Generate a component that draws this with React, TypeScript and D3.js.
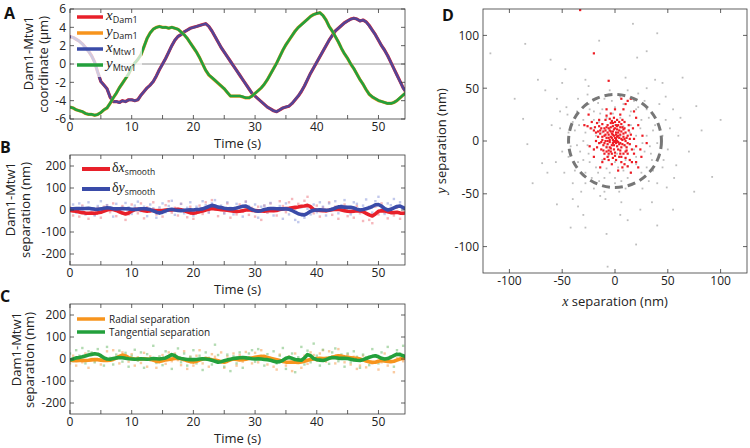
import React from 'react';
import * as d3 from 'd3';

// ---------- DATA ----------
// sample times (s) shared by the time series in panels A-C
const sampleTimes = d3.range(0, 55, 0.5);

// Panel A: Dam1 coordinates (µm)
const xDam1 = [3.0, 2.9, 2.7, 2.5, 2.2, 1.8, 1.4, 0.9, 0.2, -0.9, -1.9, -2.3, -2.7, -3.6, -4.1, -4.1, -4.2, -4.0, -4.1, -3.9,
  -3.9, -4.0, -3.9, -3.4, -3.0, -2.6, -2.3, -1.9, -1.3, -0.6, 0.0, 0.6, 1.3, 2.0, 2.6, 3.0, 3.2, 3.5, 3.7, 3.9,
  4.0, 4.1, 4.2, 4.3, 4.4, 4.1, 3.6, 3.0, 2.4, 1.8, 1.3, 0.8, 0.3, -0.2, -0.7, -1.2, -1.7, -2.2, -2.7, -3.2,
  -3.5, -3.8, -4.1, -4.4, -4.7, -4.9, -5.1, -5.2, -5.0, -4.8, -4.7, -4.6, -4.3, -3.9, -3.5, -3.0, -2.4, -1.7, -1.0, -0.4,
  0.2, 0.8, 1.4, 2.0, 2.6, 3.1, 3.6, 3.9, 4.2, 4.5, 4.7, 4.9, 5.0, 4.9, 4.7, 4.8, 4.6, 4.2, 3.7, 3.2,
  2.6, 2.0, 1.5, 0.9, 0.2, -0.5, -1.2, -1.9, -2.6, -3.1];
const yDam1 = [-4.7, -4.8, -5.0, -5.1, -5.2, -5.4, -5.5, -5.5, -5.6, -5.5, -5.3, -5.0, -4.8, -4.3, -3.7, -3.2, -2.6, -2.1, -1.6, -1.1,
  -0.4, 0.1, 0.5, 1.0, 1.9, 2.8, 3.4, 3.8, 4.0, 4.1, 4.0, 4.0, 3.9, 4.0, 3.9, 3.8, 3.5, 3.2, 2.8, 2.3,
  1.8, 1.3, 0.7, 0.0, -0.7, -1.2, -1.5, -1.8, -2.1, -2.4, -2.7, -3.1, -3.5, -3.5, -3.5, -3.5, -3.6, -3.7, -3.7, -3.5,
  -3.2, -2.9, -2.6, -2.2, -1.7, -1.1, -0.5, 0.1, 0.8, 1.5, 2.1, 2.6, 3.1, 3.6, 4.0, 4.3, 4.6, 4.9, 5.2, 5.4,
  5.5, 5.6, 5.3, 4.8, 4.1, 3.6, 3.0, 2.4, 1.7, 1.1, 0.6, 0.0, -0.5, -1.1, -1.7, -2.2, -2.8, -3.3, -3.6, -3.8,
  -4.0, -4.1, -4.2, -4.3, -4.3, -4.2, -4.0, -3.7, -3.4, -3.1];

// Panel B: smoothed separations (nm)
const smoothDx = [-2, -4, -6, -9, -12, -14, -15, -14, -15, -13, -10, -5, 0, 3, 2, -2, -8, -14, -18, -14,
  -5, 2, 3, 0, -3, -5, -3, -1, -3, -4, -2, 0, 1, 0, 2, 3, 1, -3, -8, -13,
  -15, -12, -8, -5, 0, 4, 7, 5, 3, 1, 0, -1, -3, -5, -7, -6, -3, 0, 1, -1,
  -3, -4, -4, -5, -3, -2, -3, -2, 2, 5, 7, 8, 10, 12, 14, 17, 18, 21, 15, 2,
  -1, -2, -3, -3, -1, 1, 3, 3, 0, -3, -6, -7, -5, -3, -4, -8, -15, -22, -27, -18,
  -6, -3, -4, -8, -12, -12, -10, -14, -15, -13];
const smoothDy = [5, 6, 7, 7, 6, 7, 8, 6, 4, 3, 5, 8, 10, 9, 6, 5, 6, 7, 6, 5,
  3, 3, 4, 6, 6, 5, 2, -4, -10, -14, -10, -4, 1, 3, 0, -2, -3, -1, 0, 1,
  0, 2, 3, 5, 10, 16, 21, 18, 13, 11, 8, 6, 5, 6, 9, 13, 17, 18, 10, 2,
  -3, -6, -3, 2, 5, 7, 7, 6, 5, 6, 5, 3, -2, -10, -17, -21, -22, -15, -6, -1,
  0, 1, 0, -1, 0, 3, 9, 14, 14, 13, 12, 12, 9, 4, 0, 2, 6, 10, 16, 24,
  25, 18, 6, 0, 3, 10, 16, 18, 10, 5];
const rawDx = [12, -25, 8, -30, 20, -18, -40, 5, -22, 10,
  -35, 15, 22, -10, 30, -28, -5, 18, -45, -20,
  25, 8, -15, 30, -38, 12, -8, 35, -20, 5,
  -30, 22, 40, -12, 10, -25, 28, -5, -33, 15,
  -40, 5, 20, -18, 35, -10, 45, 12, -28, 8,
  -15, 30, -35, 2, -20, 25, -8, 38, -22, 10,
  -30, 15, -45, 20, -12, 30, -5, -25, 40, 18,
  -10, 35, 50, 5, 28, -18, 42, 60, 10, -15,
  20, -30, 12, -8, 35, -22, 15, -40, 5, 25,
  -28, 10, -35, 18, -15, -50, 8, -45, -60, 15,
  -20, 30, -12, -38, 5, -25, 10, -40, -18, 6];
const rawDy = [8, 25, -12, 30, 15, -20, 35, 2, -25, 18,
  40, -8, 22, 10, -30, 28, 5, -15, 32, 12,
  -18, 20, 38, -5, 15, -28, 25, 8, -35, 12,
  30, -10, 18, 42, -22, 5, 28, -15, 10, 35,
  -25, 15, -8, 40, 22, -12, 30, 45, 5, 20,
  -15, 35, 10, -20, 28, 12, -30, 38, 18, -5,
  25, -35, 15, 20, -10, 32, -25, 5, 18, -40,
  30, -20, 8, -45, -55, 12, -35, 5, -20, 25,
  -10, 35, 15, -25, 30, 8, 40, -15, 22, 45,
  10, -20, 35, 28, -8, 20, 48, 15, -12, 40,
  60, 5, -18, 30, 22, 50, -10, 35, 15, -5];

// Panel C: radial / tangential separations (nm)
const smoothRad = [-5, -7, -8, -7, -6, -7, -6, -4, -2, -3, -5, -7, -7, -6, -2, 4, 12, 18, 14, 6,
  2, 0, -1, 0, 1, 0, -2, -5, -10, -12, -8, -4, -2, 0, 2, 3, 1, -3, -8, -12,
  -14, -10, -5, 0, 2, 0, -3, -5, -8, -12, -15, -10, -4, 0, -2, -4, -3, -1, 2, 5,
  8, 10, 12, 11, 7, 3, 0, -3, -7, -11, -14, -15, -14, -15, -16, -14, -10, -6, -2, 0,
  2, 3, 2, 2, 4, 8, 12, 15, 13, 10, 8, 6, 4, 3, 0, -4, -9, -13, -15, -15,
  -10, -7, -9, -11, -12, -10, -5, 0, 3, 4];
const smoothTan = [-5, 0, 5, 7, 10, 14, 18, 21, 24, 22, 15, 5, 0, -1, 2, 5, 7, 6, 3, 1,
  0, -1, 0, 1, 0, -1, 0, 2, 1, 0, 2, 5, 12, 20, 15, 6, 2, 0, -2, -3,
  -3, -2, 0, 1, 0, -2, -6, -10, -15, -12, -8, -4, -1, 2, 4, 6, 7, 5, 3, 1,
  0, 1, 0, -2, -3, -6, -10, -14, -12, -6, 3, 7, 3, -2, -4, -6, 5, 20, 15, 2,
  -3, -5, -7, -3, 3, 7, 6, 4, 3, 3, 2, -1, -4, -6, -7, -3, 2, 8, 12, 15,
  10, 3, 0, 2, 8, 15, 22, 20, 15, 10];
const rawRad = [-20, 15, -30, 5, -15, 25, -40, 0, -10, 20,
  -25, 10, 35, -5, 40, 8, -20, 30, 15, -12,
  22, -30, 8, -18, 28, -35, 12, -8, -40, 5,
  18, -22, 30, -10, 25, -5, -28, 35, -45, 10,
  -30, 15, 40, -20, 5, -35, 22, 10, -15, 30,
  -40, 12, -5, 25, -30, 18, -12, 32, 8, -20,
  28, -15, 40, 15, -25, 5, -35, -48, 20, -10,
  -30, 12, -55, 25, 0, -40, 15, -22, 30, 18,
  -8, 25, 40, -12, 35, 10, -20, 45, 5, -15,
  20, -25, 10, -45, -30, 15, -38, 8, -20, 12,
  -48, -15, 25, -30, 10, -60, 5, 20, -10, 30];
const rawTan = [25, -10, 40, 15, 50, -20, 35, 30, -15, 45,
  10, -30, 55, 5, -25, 20, 38, -12, 28, -35,
  15, 42, -8, 30, -40, 22, 5, 60, -18, 12,
  -28, 35, 8, -45, 20, 48, -15, 25, -30, 10,
  40, -20, 15, -50, 30, 5, -25, 65, 18, -10,
  -35, 20, -55, 12, -20, 30, -40, 8, 25, 40,
  -12, 45, 10, -30, 22, -8, 35, -20, 15, 50,
  -45, 10, 25, -60, 8, 55, -25, 38, -15, 70,
  15, -30, 42, 5, -22, 30, 48, -10, 20, -35,
  25, -15, 35, 10, -40, 20, 8, -28, 45, 15,
  -20, 30, -10, 55, 12, -35, 40, 25, 60, 18];

// Panel D: all measured separations (grey) and high-confidence separations (red), nm
const dGrey: [number, number][] = [
  [-118, 83], [-85, 92], [-87, 21], [-83, -3], [-73, 58], [-61, 77], [-47, 68], [40, 102], [17, 111], [21, 79],
  [64, 60], [77, 33], [92, -34], [75, -48], [-42, -82], [-28, -82], [-7, -119], [20, -98], [24, -65], [-9, -55],
  [-40, -55], [49, -44], [58, -23], [-69, -21], [-64, -30], [-55, 40], [-60, 15], [60, 5], [55, 30], [-35, -62],
  [5, -70], [35, -58], [-20, -45], [30, 50], [-25, 52], [10, 60],
  [-30, 20], [-25, 35], [-38, 10], [-42, -5], [-35, -20], [-28, -30], [-15, -38], [0, -40], [12, -35], [25, -30],
  [35, -18], [40, -2], [38, 15], [30, 30], [18, 38], [5, 42], [-10, 40], [-20, 28], [-22, 12], [-30, 0],
  [-25, -12], [-18, -25], [-5, -30], [8, -28], [20, -22], [28, -10], [30, 5], [25, 20], [15, 28], [0, 32],
  [-12, 30], [-15, 18], [-18, 5], [-20, -8], [-12, -18], [0, -20], [10, -18], [18, -8], [20, 5], [15, 15],
  [5, 22], [-8, 22], [-45, 25], [-50, -10], [-48, -30], [45, -25], [48, 20], [42, 35], [-35, 40], [-5, 48],
  [22, 45], [-28, -40], [10, -45], [32, -38], [-40, -40], [45, 5], [-10, -48], [0, -35], [15, -30], [-22, -35],
  [-33, -10], [-36, 28], [36, -28], [28, 38], [-3, 38], [8, 35], [-16, 36], [-26, 44], [12, 48], [-44, 8],
  [-52, 12], [50, -8], [52, 12], [40, -40], [-2, 0], [5, 5], [-8, -5], [10, -5], [-5, 12], [2, -12],
  [-14, -2], [14, 8], [-6, -14], [8, 14], [-20, 20], [20, -15], [-24, -20], [24, 12], [-12, 8], [3, -25],
  [-30, -32], [33, -5], [0, 15], [-40, 18], [-32, -48], [18, -40], [26, -45], [-14, -52], [6, -58], [-52, 28],
  [48, 42], [-28, 58], [38, 58],
  [-34, 15], [-30, -18], [-24, 30], [-10, -35], [14, -42], [30, -25], [36, 10], [32, 22], [22, 32], [-6, 44],
  [-38, -28], [-44, -15], [42, -12], [28, -34], [-16, -30], [6, -38], [-26, -4], [26, -2], [-14, 26], [14, 24],
  [-2, 26], [-28, 8], [34, -12], [-36, -4], [-8, -26], [12, -24], [20, 30], [-18, 40], [4, -48], [46, -18],
  [-46, 32], [-56, -20], [56, -35], [62, 22], [-66, 48], [-50, 55], [45, 55], [-30, -70], [12, -75], [-78, -40],
  [82, 10], [70, -10], [-95, 40], [100, 20], [-15, 95], [30, 85], [-55, -60], [55, -65], [-8, -88], [40, -80]];
const dRed: [number, number][] = [
  [-3, 3], [-1, 5], [-5, 1], [0, 0], [2, 4], [-6, 6], [-2, -2], [1, 8], [-8, 3], [3, -1],
  [-4, 9], [0, 12], [5, 6], [-7, -3], [-10, 5], [4, 10], [-2, 14], [6, 2], [-9, 10], [2, -5],
  [-5, -6], [8, 7], [-12, 1], [7, -3], [-1, -8], [-6, 12], [3, 15], [-11, -4], [9, 12], [-14, 7],
  [10, 0], [-3, -12], [5, -9], [-8, -10], [12, 5], [-15, -2], [0, 18], [-4, 17], [6, 16], [11, -6],
  [-13, 12], [-16, 4], [13, 10], [-7, 15], [2, 20], [8, -12], [-2, -16], [4, -15], [14, -3], [-10, -12],
  [-18, 8], [15, 6], [-1, 22], [9, 18], [-12, 16], [10, -16], [6, -20], [-6, -18], [16, -8], [-17, -6],
  [12, -12], [18, -12], [9, -22], [12, -24], [7, -25], [14, -18], [-20, 10], [-23, 12], [-26, 14], [-19, 13],
  [-29, 15], [-22, 18], [-15, 20], [5, 25], [8, 30], [10, 35], [12, 38], [15, 40], [18, 28], [20, 22],
  [22, 15], [-4, 26], [0, 30], [-8, 30], [3, -28], [-12, -20], [16, -20], [20, -20], [22, -25], [15, -30],
  [-20, -15], [-18, 0], [18, 2], [20, -5], [-9, 20], [-3, 7], [1, 2], [-2, 9], [-5, -1], [3, 8],
  [-7, 0], [4, 3], [-1, -4], [-9, 6], [6, -6], [-4, 13], [2, 11], [-11, 9], [8, 4], [-6, -9],
  [0, -11], [10, 8], [-13, -8], [5, 13], [-15, 14], [1, -18], [7, 20], [-10, -17], [11, -9], [13, 15],
  [-17, 17], [-3, -22], [-20, -8], [24, -8], [26, 5], [-6, 57], [-20, 83], [-14, -25], [-24, -5], [17, 12],
  [-8, 24], [25, -15], [30, -2], [-25, 25], [6, 40], [-33, 124],
  [-4, 4], [-2, 1], [-6, 3], [1, 6], [-3, -4], [2, 0], [-7, 8], [0, 3], [4, -3], [-9, 0],
  [-1, 11], [3, 5], [-5, 10], [6, 9], [-10, -2], [-4, -7], [1, -2], [7, 1], [-8, 13], [-2, 17],
  [5, -12], [-12, 4], [9, -4], [-6, -12], [2, 14], [-14, 10], [11, 3], [-11, -9], [0, -14], [8, 11],
  [-3, 19], [12, -2], [-16, 9], [4, 18], [-7, -15], [10, -10], [14, 2], [-13, -1], [6, -15], [-5, 21],
  [3, -8], [-8, -6], [7, 13], [-1, -1], [-4, -10], [1, 15], [9, 2], [-10, 12], [5, -2], [-2, 6]];
const circleRadius = 44; // nm

// tick values
const timeTickLabels = [0, 10, 20, 30, 40, 50];
const timeTickMarks = [0, 5, 10, 15, 20, 25, 30, 35, 40, 45, 50];
const coordTicks = [-6, -4, -2, 0, 2, 4, 6];
const sepTicks = [-200, -100, 0, 100, 200];
const dTicks = [-100, -50, 0, 50, 100];

// ---------- STYLE ----------
const FONT = "'Open Sans', 'Noto Sans', sans-serif";
const SERIF = "'Liberation Serif', 'DejaVu Serif', serif";
const AXIS = '#3a3a3a';
const RED = '#e8202a';
const BLUE = '#3a4ba8';
const ORANGE = '#f7941d';
const GREEN = '#23a03c';

type Box = { l: number; r: number; t: number; b: number };

function Frame({ box, x, y, xMarks, xLabels, yMarks, yLabels, fmtY }: any) {
  const tl = 4;
  return (
    <g fontFamily={FONT} fontSize={12} fill="#222">
      <rect x={box.l} y={box.t} width={box.r - box.l} height={box.b - box.t} fill="none" stroke={AXIS} strokeWidth={0.8} />
      {xMarks.map((v: number) => (
        <g key={'xm' + v} stroke={AXIS} strokeWidth={0.8}>
          <line x1={x(v)} x2={x(v)} y1={box.b} y2={box.b - tl} />
          <line x1={x(v)} x2={x(v)} y1={box.t} y2={box.t + tl} />
        </g>
      ))}
      {yMarks.map((v: number) => (
        <g key={'ym' + v} stroke={AXIS} strokeWidth={0.8}>
          <line x1={box.l} x2={box.l + tl} y1={y(v)} y2={y(v)} />
          <line x1={box.r} x2={box.r - tl} y1={y(v)} y2={y(v)} />
        </g>
      ))}
      {xLabels.map((v: number) => (
        <text key={'xl' + v} x={x(v)} y={box.b + 12} textAnchor="middle" stroke="none">{v}</text>
      ))}
      {yLabels.map((v: number) => (
        <text key={'yl' + v} x={box.l - 4} y={y(v) + 4.3} textAnchor="end" stroke="none">{fmtY ? fmtY(v) : v}</text>
      ))}
    </g>
  );
}

function TimeLabel({ box }: { box: Box }) {
  return (
    <text x={(box.l + box.r) / 2} y={box.b + 29} textAnchor="middle" fontFamily={FONT} fontSize={13} fill="#222">Time (s)</text>
  );
}

function YTitle({ x1, x2, top, line1, line2 }: any) {
  return (
    <g fontFamily={FONT} fontSize={13} fill="#222">
      <text transform={`translate(${x1},${top}) rotate(-90)`} textAnchor="end">{line1}</text>
      <text transform={`translate(${x2},${top}) rotate(-90)`} textAnchor="end">{line2}</text>
    </g>
  );
}

function Dots({ vals, x, y, color, opacity }: any) {
  return (
    <g fill={color} opacity={opacity}>
      {vals.map((v: number, i: number) => (
        <rect key={i} x={x(sampleTimes[i]) - 1.2} y={y(v) - 1.2} width={2.4} height={2.4} />
      ))}
    </g>
  );
}

export default function App() {
  const tx = d3.scaleLinear().domain([0, 54.3]).range([70, 405]);
  const boxA: Box = { l: 70, r: 405, t: 9, b: 119 };
  const boxB: Box = { l: 70, r: 405, t: 155, b: 265 };
  const boxC: Box = { l: 70, r: 405, t: 304, b: 414 };
  const boxD: Box = { l: 483, r: 747, t: 9, b: 273 };

  const yA = d3.scaleLinear().domain([-6, 6]).range([boxA.b, boxA.t]);
  const yB = d3.scaleLinear().domain([-250, 250]).range([boxB.b, boxB.t]);
  const yC = d3.scaleLinear().domain([-250, 250]).range([boxC.b, boxC.t]);
  const dx = d3.scaleLinear().domain([-125, 125]).range([boxD.l, boxD.r]);
  const dy = d3.scaleLinear().domain([-125, 125]).range([boxD.b, boxD.t]);

  const lineOf = (vals: number[], ys: any) =>
    d3.line<number>().x((_, i) => tx(sampleTimes[i])).y((v) => ys(v))(vals) || '';

  const xMtw1 = xDam1.map((v, i) => v + smoothDx[i] / 1000);
  const yMtw1 = yDam1.map((v, i) => v + smoothDy[i] / 1000);

  const minusFmt = (v: number) => (v < 0 ? '-' + Math.abs(v) : String(v));

  return (
    <svg width={750} height={448} style={{ position: 'absolute', left: 0, top: 0, background: '#fff' }}>
      <defs>
        {[['cA', boxA], ['cB', boxB], ['cC', boxC], ['cD', boxD]].map(([id, b]: any) => (
          <clipPath id={id} key={id}>
            <rect x={b.l} y={b.t} width={b.r - b.l} height={b.b - b.t} />
          </clipPath>
        ))}
      </defs>
      <rect width={750} height={448} fill="#fff" />

      {/* Panel letters */}
      <g fontFamily={FONT} fontWeight={700} fontSize={16} fill="#111">
        <text x={4} y={19}>A</text>
        <text x={0} y={153}>B</text>
        <text x={0} y={302}>C</text>
        <text x={442} y={21}>D</text>
      </g>

      {/* ---------- Panel A ---------- */}
      <g clipPath="url(#cA)">
        <line x1={boxA.l} x2={boxA.r} y1={yA(0)} y2={yA(0)} stroke="#7a7a7a" strokeWidth={0.8} />
        <path d={lineOf(xDam1, yA)} fill="none" stroke={RED} strokeWidth={3.2} strokeLinejoin="round" />
        <path d={lineOf(xMtw1, yA)} fill="none" stroke={BLUE} strokeWidth={2.6} strokeOpacity={0.85} strokeLinejoin="round" />
        <path d={lineOf(yDam1, yA)} fill="none" stroke={ORANGE} strokeWidth={3.2} strokeLinejoin="round" />
        <path d={lineOf(yMtw1, yA)} fill="none" stroke={GREEN} strokeWidth={2.6} strokeLinejoin="round" />
      </g>
      <rect x={71} y={10} width={71} height={67} fill="#fff" opacity={0.72} />
      <Frame box={boxA} x={tx} y={yA} xMarks={timeTickMarks} xLabels={timeTickLabels} yMarks={coordTicks} yLabels={coordTicks} fmtY={minusFmt} />
      {[
        ['x', 'Dam1', RED],
        ['y', 'Dam1', ORANGE],
        ['x', 'Mtw1', BLUE],
        ['y', 'Mtw1', GREEN],
      ].map(([v, s, c], i) => {
        const ly = 17 + i * 16;
        return (
          <g key={i}>
            <line x1={77} x2={103} y1={ly} y2={ly} stroke={c} strokeWidth={3.5} />
            <text x={106} y={ly + 2.5} fontFamily={SERIF} fontStyle="italic" fontSize={15} fill="#222">
              {v}
              <tspan fontFamily={FONT} fontStyle="normal" fontSize={9} dy={3}>{s}</tspan>
            </text>
          </g>
        );
      })}
      <TimeLabel box={boxA} />
      <YTitle x1={33} x2={48} top={16} line1="Dam1-Mtw1" line2="coordinate (μm)" />

      {/* ---------- Panel B ---------- */}
      <g clipPath="url(#cB)">
        <Dots vals={rawDx} x={tx} y={yB} color="#f08a92" opacity={0.6} />
        <Dots vals={rawDy} x={tx} y={yB} color="#9aa6e0" opacity={0.6} />
        <path d={lineOf(smoothDx, yB)} fill="none" stroke={RED} strokeWidth={3.6} strokeLinejoin="round" />
        <path d={lineOf(smoothDy, yB)} fill="none" stroke={BLUE} strokeWidth={3.6} strokeLinejoin="round" />
      </g>
      <Frame box={boxB} x={tx} y={yB} xMarks={timeTickMarks} xLabels={timeTickLabels} yMarks={sepTicks} yLabels={sepTicks} fmtY={minusFmt} />
      {[
        ['x', RED],
        ['y', BLUE],
      ].map(([v, c], i) => {
        const ly = 169 + i * 20;
        return (
          <g key={i}>
            <line x1={82} x2={110} y1={ly} y2={ly} stroke={c} strokeWidth={4} />
            <text x={112} y={ly + 3} fontFamily={SERIF} fontSize={14} fill="#222">
              δ<tspan fontStyle="italic">{v}</tspan>
              <tspan fontFamily={FONT} fontSize={8.5} dy={3}>smooth</tspan>
            </text>
          </g>
        );
      })}
      <TimeLabel box={boxB} />
      <YTitle x1={15} x2={30} top={162} line1="Dam1-Mtw1" line2="separation (nm)" />

      {/* ---------- Panel C ---------- */}
      <g clipPath="url(#cC)">
        <Dots vals={rawRad} x={tx} y={yC} color="#f8b070" opacity={0.65} />
        <Dots vals={rawTan} x={tx} y={yC} color="#8cc98a" opacity={0.65} />
        <path d={lineOf(smoothRad, yC)} fill="none" stroke={ORANGE} strokeWidth={3.6} strokeLinejoin="round" />
        <path d={lineOf(smoothTan, yC)} fill="none" stroke={GREEN} strokeWidth={3.6} strokeLinejoin="round" />
      </g>
      <Frame box={boxC} x={tx} y={yC} xMarks={timeTickMarks} xLabels={timeTickLabels} yMarks={sepTicks} yLabels={sepTicks} fmtY={minusFmt} />
      {[
        ['Radial separation', ORANGE],
        ['Tangential separation', GREEN],
      ].map(([label, c], i) => {
        const ly = 319 + i * 13;
        return (
          <g key={i}>
            <line x1={77} x2={105} y1={ly} y2={ly} stroke={c} strokeWidth={3.5} />
            <text x={109} y={ly + 3.5} fontFamily={FONT} fontSize={10} fill="#222">{label}</text>
          </g>
        );
      })}
      <TimeLabel box={boxC} />
      <YTitle x1={21} x2={34} top={312} line1="Dam1-Mtw1" line2="separation (nm)" />

      {/* ---------- Panel D ---------- */}
      <g clipPath="url(#cD)">
        <g fill="#bdbdbd">
          {dGrey.map(([px, py], i) => (
            <rect key={i} x={dx(px) - 0.9} y={dy(py) - 0.9} width={1.8} height={1.8} />
          ))}
        </g>
        <g fill="#ee1c24">
          {dRed.map(([px, py], i) => (
            <rect key={i} x={dx(px) - 1.1} y={dy(py) - 1.1} width={2.2} height={2.2} />
          ))}
        </g>
        <circle cx={dx(0)} cy={dy(0)} r={dx(circleRadius) - dx(0)} fill="none" stroke="#777" strokeWidth={3} strokeDasharray="8 5" />
      </g>
      <Frame box={boxD} x={dx} y={dy} xMarks={dTicks} xLabels={dTicks} yMarks={dTicks} yLabels={dTicks} fmtY={minusFmt} />
      <text x={(boxD.l + boxD.r) / 2} y={306} textAnchor="middle" fontFamily={FONT} fontSize={13} fill="#222">
        <tspan fontFamily={SERIF} fontStyle="italic" fontSize={14}>x</tspan> separation (nm)
      </text>
      <text transform={`translate(446,${(boxD.t + boxD.b) / 2}) rotate(-90)`} textAnchor="middle" fontFamily={FONT} fontSize={13} fill="#222">
        <tspan fontFamily={SERIF} fontStyle="italic" fontSize={14}>y</tspan> separation (nm)
      </text>
    </svg>
  );
}
